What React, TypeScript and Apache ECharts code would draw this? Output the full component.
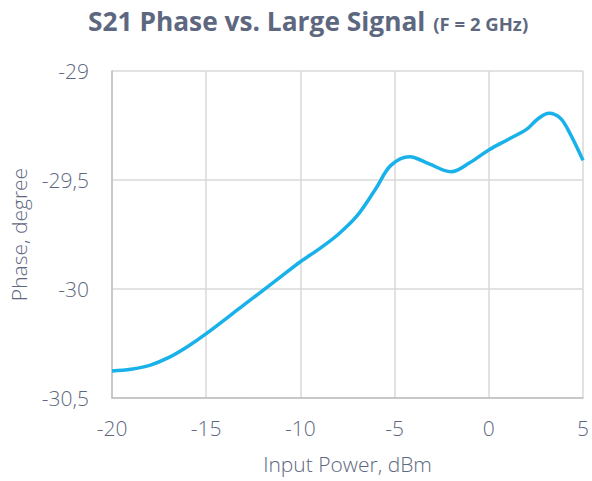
import React, { useEffect, useRef } from "react";
import * as echarts from "echarts";

const inputPower = [-20, -19, -18, -17, -16, -15, -13, -11, -10, -9, -8, -7, -6, -5.2, -4.2, -3.2, -2, -1, 0, 1, 2, 2.6, 3.2, 3.8, 4.3, 5];
const phase = [-30.376, -30.368, -30.35, -30.315, -30.265, -30.205, -30.073, -29.941, -29.875, -29.816, -29.75, -29.665, -29.54, -29.433, -29.393, -29.425, -29.462, -29.42, -29.362, -29.315, -29.268, -29.22, -29.194, -29.217, -29.285, -29.41];
const xTicks = { min: -20, max: 5, interval: 5 };
const yTicks = { min: -30.5, max: -29, interval: 0.5 };

const TEXT = "#5d6880";
const FONT = "Open Sans";

export default function App() {
  const ref = useRef<HTMLDivElement>(null);
  useEffect(() => {
    const chart = echarts.init(ref.current!, null, { renderer: "svg" });
    chart.setOption({
      animation: false,
      backgroundColor: "#ffffff",
      title: {
        text: "{a|S21 Phase vs. Large Signal} {b|(F = 2 GHz)}",
        left: 83,
        top: 3,
        textStyle: {
          rich: {
            a: { fontFamily: FONT, fontWeight: "bold", fontSize: 26.3, color: TEXT },
            b: { fontFamily: FONT, fontWeight: "bold", fontSize: 18.5, color: TEXT, padding: [5, 0, 0, 3] },
          },
        },
      },
      grid: { left: 112, right: 7, top: 71, bottom: 83, containLabel: false },
      xAxis: {
        type: "value",
        min: xTicks.min,
        max: xTicks.max,
        interval: xTicks.interval,
        name: "Input Power, dBm",
        nameLocation: "middle",
        nameGap: 55,
        nameTextStyle: { fontFamily: FONT, fontSize: 21, color: TEXT, fontWeight: 300 },
        axisLine: { show: true, onZero: false, lineStyle: { color: "#bfbfbf", width: 1.5 } },
        axisTick: { show: false },
        axisLabel: { fontFamily: FONT, fontSize: 21, color: TEXT, margin: 19, fontWeight: 300 },
        splitLine: { show: true, lineStyle: { color: "#d9d9d9", width: 1.5 } },
      },
      yAxis: {
        type: "value",
        min: yTicks.min,
        max: yTicks.max,
        interval: yTicks.interval,
        name: "Phase, degree",
        nameLocation: "middle",
        nameGap: 83,
        nameTextStyle: { fontFamily: FONT, fontSize: 21, color: TEXT, fontWeight: 300 },
        axisLine: { show: true, onZero: false, lineStyle: { color: "#bfbfbf", width: 1.5 } },
        axisTick: { show: false },
        axisLabel: {
          fontFamily: FONT,
          fontSize: 21,
          color: TEXT,
          margin: 23,
          fontWeight: 300,
          formatter: (v: number) => String(v).replace(".", ","),
        },
        splitLine: { show: true, lineStyle: { color: "#d9d9d9", width: 1.5 } },
      },
      series: [
        {
          type: "line",
          data: inputPower.map((x, i) => [x, phase[i]]),
          smooth: 0.35,
          showSymbol: false,
          lineStyle: { color: "#19b1ea", width: 3.5 },
        },
      ],
    });
    return () => chart.dispose();
  }, []);
  return (
    <div
      ref={ref}
      style={{ position: "fixed", left: 0, top: 0, width: 592, height: 481 }}
    />
  );
}
